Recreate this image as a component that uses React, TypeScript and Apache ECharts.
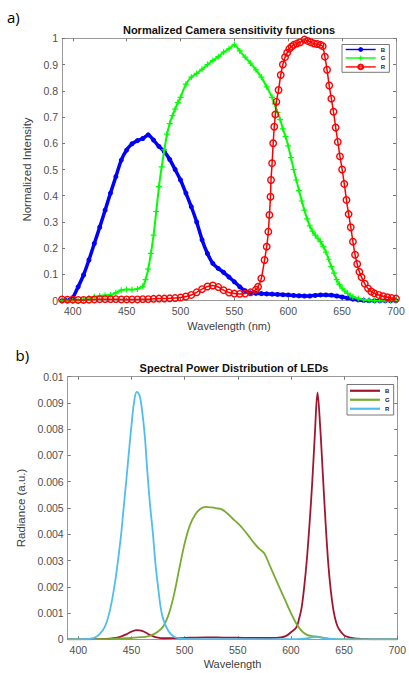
import React, { useEffect, useRef } from "react";
import * as echarts from "echarts";

// ---------------- Data ----------------
const wavelengthTicks = [400, 450, 500, 550, 600, 650, 700];

// a) Normalized camera sensitivity functions [wavelength nm, normalized intensity]
const camB: [number, number][] = [
  [390, 0], [395, 0.002], [400, 0.012], [405, 0.053], [410, 0.098], [415, 0.155], [420, 0.218],
  [425, 0.28], [430, 0.345], [435, 0.41], [440, 0.473], [445, 0.536], [450, 0.574], [455, 0.598],
  [460, 0.61], [465, 0.618], [470, 0.632], [475, 0.612], [480, 0.588], [485, 0.568], [490, 0.538],
  [495, 0.5], [500, 0.46], [505, 0.41], [510, 0.358], [515, 0.3], [520, 0.232], [525, 0.18],
  [530, 0.142], [535, 0.123], [540, 0.108], [545, 0.09], [550, 0.072], [555, 0.053], [560, 0.038],
  [565, 0.03], [570, 0.028], [575, 0.027], [580, 0.026], [585, 0.025], [590, 0.024], [595, 0.023],
  [600, 0.022], [605, 0.02], [610, 0.019], [615, 0.018], [620, 0.018], [625, 0.02], [630, 0.022],
  [635, 0.022], [640, 0.021], [645, 0.018], [650, 0.014], [655, 0.01], [660, 0.006], [665, 0.003],
  [670, 0.001], [675, 0], [680, 0], [685, 0], [690, 0], [695, 0], [700, 0],
];

const camG: [number, number][] = [
  [390, 0], [395, 0], [400, 0], [405, 0.002], [410, 0.005], [415, 0.01], [420, 0.015], [425, 0.018],
  [430, 0.02], [435, 0.022], [440, 0.03], [445, 0.04], [450, 0.043], [455, 0.042], [460, 0.045],
  [465, 0.055], [467.5, 0.08], [470, 0.12], [472.5, 0.18], [475, 0.25], [477.5, 0.34], [480, 0.435],
  [482.5, 0.51], [485, 0.575], [487.5, 0.635], [490, 0.675], [492.5, 0.705], [495, 0.73],
  [497.5, 0.755], [500, 0.775], [505, 0.825], [510, 0.852], [515, 0.866], [520, 0.882], [525, 0.9],
  [530, 0.915], [535, 0.93], [540, 0.947], [545, 0.96], [550, 0.975], [555, 0.952], [560, 0.928],
  [565, 0.905], [570, 0.88], [575, 0.852], [580, 0.815], [585, 0.775], [587.5, 0.75], [590, 0.718],
  [592.5, 0.69], [595, 0.655], [597.5, 0.625], [600, 0.59], [602.5, 0.545], [605, 0.5],
  [607.5, 0.46], [610, 0.42], [612.5, 0.38], [615, 0.345], [617.5, 0.312], [620, 0.285],
  [622.5, 0.265], [625, 0.25], [627.5, 0.238], [630, 0.225], [632.5, 0.207], [635, 0.185],
  [637.5, 0.158], [640, 0.13], [642.5, 0.105], [645, 0.08], [647.5, 0.062], [650, 0.048],
  [652.5, 0.037], [655, 0.028], [657.5, 0.02], [660, 0.015], [665, 0.008], [670, 0.004],
  [675, 0.002], [680, 0], [685, 0], [690, 0], [695, 0], [700, 0],
];

const camR: [number, number][] = [
  [390, 0.005], [395, 0.004], [400, 0.004], [405, 0.003], [410, 0.003], [415, 0.004], [420, 0.005],
  [425, 0.006], [430, 0.006], [435, 0.006], [440, 0.006], [445, 0.005], [450, 0.005], [455, 0.005],
  [460, 0.005], [465, 0.006], [470, 0.006], [475, 0.007], [480, 0.008], [485, 0.008], [490, 0.009],
  [495, 0.01], [500, 0.012], [505, 0.016], [510, 0.022], [515, 0.032], [520, 0.044], [525, 0.054],
  [530, 0.058], [535, 0.052], [540, 0.04], [545, 0.031], [550, 0.027], [555, 0.026], [560, 0.027],
  [565, 0.032], [570, 0.042], [572, 0.053], [575, 0.085], [578, 0.155], [580, 0.206],
  [581.5, 0.263], [582.5, 0.327], [583.5, 0.396], [584, 0.46], [585, 0.524], [586, 0.6],
  [587, 0.663], [588, 0.71], [589, 0.758], [591, 0.803], [593, 0.86], [595, 0.9], [597, 0.928],
  [599, 0.945], [601, 0.96], [603, 0.968], [605, 0.975], [608, 0.98], [611, 0.985], [615, 0.995],
  [618, 0.99], [621, 0.985], [624, 0.98], [627, 0.978], [630, 0.975], [632, 0.97], [634, 0.93],
  [636, 0.88], [638, 0.82], [640, 0.77], [642, 0.72], [644, 0.66], [646, 0.605], [648, 0.55],
  [650, 0.5], [652, 0.445], [654, 0.384], [656, 0.33], [658, 0.28], [660, 0.225], [662, 0.175],
  [664, 0.14], [666, 0.11], [668, 0.09], [671, 0.065], [674, 0.047], [677, 0.035], [680, 0.028],
  [684, 0.022], [688, 0.017], [692, 0.013], [696, 0.01], [700, 0.008],
];

// b) Spectral power distribution of LEDs [wavelength nm, radiance in units of 0.001]
const RADIANCE_UNIT = 0.001;

const ledB: [number, number][] = [
  [390, 0], [410, 0], [415, 0.005], [420, 0.01], [425, 0.015], [430, 0.025], [435, 0.05],
  [440, 0.1], [445, 0.19], [450, 0.29], [455, 0.35], [460, 0.32], [465, 0.22], [470, 0.12],
  [475, 0.06], [480, 0.04], [490, 0.045], [500, 0.055], [510, 0.065], [520, 0.07], [530, 0.07],
  [540, 0.065], [550, 0.06], [560, 0.055], [570, 0.05], [580, 0.05], [585, 0.055], [590, 0.07],
  [595, 0.12], [600, 0.27], [605, 0.45], [607.5, 0.75], [610, 1.2], [612.5, 2.0], [615, 3.05],
  [617.5, 4.4], [620, 5.95], [622.5, 7.8], [625, 9.4], [627.5, 8.1], [630, 6.3], [632.5, 4.5],
  [635, 2.95], [637.5, 1.85], [640, 1.1], [642.5, 0.65], [645, 0.4], [650, 0.15], [655, 0.07],
  [660, 0.035], [665, 0.02], [670, 0.01], [680, 0], [700, 0],
];

const ledG: [number, number][] = [
  [390, 0], [415, 0], [420, 0.005], [430, 0.015], [440, 0.03], [450, 0.05], [460, 0.08],
  [465, 0.11], [470, 0.18], [475, 0.3], [480, 0.5], [485, 0.95], [490, 1.7], [495, 2.7],
  [500, 3.65], [505, 4.35], [510, 4.75], [515, 4.97], [520, 5.04], [525, 5.02], [530, 4.99],
  [535, 4.95], [540, 4.8], [545, 4.6], [550, 4.42], [555, 4.2], [560, 3.95], [565, 3.68],
  [570, 3.45], [575, 3.27], [580, 2.82], [585, 2.36], [590, 1.9], [595, 1.45], [600, 1.0],
  [605, 0.6], [610, 0.32], [615, 0.17], [620, 0.12], [625, 0.1], [630, 0.06], [635, 0.03],
  [640, 0.01], [650, 0], [700, 0],
];

const ledR: [number, number][] = [
  [390, 0], [400, 0], [405, 0.005], [410, 0.02], [415, 0.06], [420, 0.2], [425, 0.48],
  [430, 1.15], [435, 2.3], [440, 3.9], [442.5, 4.95], [445, 6.0], [447.5, 7.1], [450, 8.15],
  [452.5, 9.05], [455, 9.42], [457.5, 9.3], [460, 8.7], [462.5, 7.75], [465, 6.35], [467.5, 5.1],
  [470, 4.1], [472.5, 2.9], [475, 2.0], [477.5, 1.2], [480, 0.75], [485, 0.3], [490, 0.1],
  [495, 0.04], [500, 0.02], [510, 0.01], [600, 0.01], [610, 0.02], [615, 0.04], [620, 0.07],
  [625, 0.08], [630, 0.05], [635, 0.02], [640, 0.01], [650, 0], [700, 0],
];

// ---------------- Styling ----------------
const FONT = "'Liberation Sans', Arial, Helvetica, sans-serif";
const AXIS_COLOR = "#9a9a9a";
const LABEL_COLOR = "#505050";
const NAME_COLOR = "#404040";
const PLUS_SYMBOL = "path://M4,0H6V4H10V6H6V10H4V6H0V4H4Z";

function xAxesFor(gridIndex: number, name: string, nameGap: number) {
  const base = {
    type: "value" as const,
    gridIndex,
    min: 390,
    max: 700,
    splitLine: { show: false },
    axisLine: { show: true, onZero: false, lineStyle: { color: AXIS_COLOR, width: 1 } },
    axisTick: { show: true, inside: true, length: 3, customValues: wavelengthTicks, lineStyle: { color: "#777" } },
  };
  return [
    {
      ...base,
      position: "bottom",
      name,
      nameLocation: "middle",
      nameGap,
      nameTextStyle: { fontSize: 11, color: NAME_COLOR, fontFamily: FONT },
      axisLabel: { customValues: wavelengthTicks, margin: 5, fontSize: 10.5, color: LABEL_COLOR, fontFamily: FONT },
    },
    { ...base, position: "top", axisLabel: { show: false } },
  ];
}

function yAxesFor(
  gridIndex: number,
  max: number,
  interval: number,
  name: string,
  nameGap: number,
  formatter: (v: number) => string
) {
  const base = {
    type: "value" as const,
    gridIndex,
    min: 0,
    max,
    interval,
    splitLine: { show: false },
    axisLine: { show: true, onZero: false, lineStyle: { color: AXIS_COLOR, width: 1 } },
    axisTick: { show: true, inside: true, length: 3, lineStyle: { color: "#777" } },
  };
  return [
    {
      ...base,
      position: "left",
      name,
      nameLocation: "middle",
      nameGap,
      nameTextStyle: { fontSize: 11.5, color: NAME_COLOR, fontFamily: FONT },
      axisLabel: { margin: 4, fontSize: 10.5, color: LABEL_COLOR, fontFamily: FONT, formatter },
    },
    { ...base, position: "right", axisLabel: { show: false } },
  ];
}

const scaleLed = (arr: [number, number][]) => arr.map(([w, v]) => [w, v * RADIANCE_UNIT]);

export default function App() {
  const ref = useRef<HTMLDivElement>(null);

  useEffect(() => {
    if (!ref.current) return;
    const chart = echarts.init(ref.current, null, { renderer: "svg" });

    const option: any = {
      animation: false,
      backgroundColor: "#ffffff",
      textStyle: { fontFamily: FONT },
      grid: [
        { left: 62, top: 38.3, width: 334, height: 262.4, containLabel: false },
        { left: 67.7, top: 376.7, width: 332.3, height: 262.6, containLabel: false },
      ],
      xAxis: [...xAxesFor(0, "Wavelength (nm)", 19.5), ...xAxesFor(1, "Wavelength", 19.5)],
      yAxis: [
        ...yAxesFor(0, 1, 0.1, "Normalized Intensity", 21.5, (v: number) => String(Number(v.toFixed(1)))),
        ...yAxesFor(1, 0.01, 0.001, "Radiance (a.u.)", 33.5, (v: number) => String(Number(v.toFixed(3)))),
      ],
      legend: [
        {
          data: ["B", "G", "R"],
          orient: "vertical",
          left: 342,
          top: 44.5,
          itemWidth: 30,
          itemHeight: 6,
          itemGap: 2.5,
          padding: [2, 4, 2, 3],
          borderColor: "#555",
          borderWidth: 0.8,
          backgroundColor: "#fff",
          selectedMode: false,
          lineStyle: { width: 1.4 },
          textStyle: { fontSize: 6, fontWeight: "bold", color: "#222", fontFamily: FONT },
        },
        {
          data: ["LED B", "LED G", "LED R"],
          formatter: (n: string) => n.replace("LED ", ""),
          orient: "vertical",
          left: 347,
          top: 384.5,
          icon: "rect",
          itemWidth: 30,
          itemHeight: 2.2,
          itemGap: 2.5,
          padding: [3, 4, 3, 3],
          borderColor: "#555",
          borderWidth: 0.8,
          backgroundColor: "#fff",
          selectedMode: false,
          textStyle: { fontSize: 6, fontWeight: "bold", color: "#222", fontFamily: FONT, lineHeight: 6.5 },
        },
      ],
      graphic: [
        {
          type: "text",
          x: 7,
          y: 16.5,
          style: { text: "a)", fontSize: 15, fill: "#000", fontFamily: "'Open Sans', 'Liberation Sans', sans-serif", verticalAlign: "middle" },
        },
        {
          type: "text",
          x: 15.5,
          y: 354.5,
          style: { text: "b)", fontSize: 15, fill: "#000", fontFamily: "'Open Sans', 'Liberation Sans', sans-serif", verticalAlign: "middle" },
        },
        {
          type: "text",
          x: 229,
          y: 30,
          style: {
            text: "Normalized Camera sensitivity functions",
            fontSize: 11,
            fontWeight: "bold",
            fill: "#111",
            fontFamily: FONT,
            align: "center",
            verticalAlign: "middle",
          },
        },
        {
          type: "text",
          x: 234,
          y: 368.3,
          style: {
            text: "Spectral Power Distribution of LEDs",
            fontSize: 11,
            fontWeight: "bold",
            fill: "#111",
            fontFamily: FONT,
            align: "center",
            verticalAlign: "middle",
          },
        },
      ],
      series: [
        {
          name: "B",
          type: "line",
          xAxisIndex: 0,
          yAxisIndex: 0,
          data: camB,
          smooth: 0.2,
          symbol: "circle",
          symbolSize: 5,
          lineStyle: { color: "#0000FF", width: 3.5 },
          itemStyle: { color: "#0000FF" },
          z: 2,
        },
        {
          name: "G",
          type: "line",
          xAxisIndex: 0,
          yAxisIndex: 0,
          data: camG,
          smooth: 0.2,
          symbol: PLUS_SYMBOL,
          symbolSize: 6,
          lineStyle: { color: "#00FF00", width: 2 },
          itemStyle: { color: "#00FF00" },
          z: 3,
        },
        {
          name: "R",
          type: "line",
          xAxisIndex: 0,
          yAxisIndex: 0,
          data: camR,
          smooth: 0.2,
          symbol: "circle",
          symbolSize: 6.5,
          lineStyle: { color: "#FF0000", width: 1.5 },
          itemStyle: { color: "rgba(255,255,255,0)", borderColor: "#FF0000", borderWidth: 1.4 },
          z: 4,
        },
        {
          name: "LED B",
          type: "line",
          xAxisIndex: 2,
          yAxisIndex: 2,
          data: scaleLed(ledB),
          smooth: 0.35,
          symbol: "none",
          lineStyle: { color: "#A2142F", width: 1.8 },
          itemStyle: { color: "#A2142F" },
          z: 2,
        },
        {
          name: "LED G",
          type: "line",
          xAxisIndex: 2,
          yAxisIndex: 2,
          data: scaleLed(ledG),
          smooth: 0.35,
          symbol: "none",
          lineStyle: { color: "#77AC30", width: 1.8 },
          itemStyle: { color: "#77AC30" },
          z: 3,
        },
        {
          name: "LED R",
          type: "line",
          xAxisIndex: 2,
          yAxisIndex: 2,
          data: scaleLed(ledR),
          smooth: 0.35,
          symbol: "none",
          lineStyle: { color: "#4DBEEE", width: 1.8 },
          itemStyle: { color: "#4DBEEE" },
          z: 4,
        },
      ],
    };

    chart.setOption(option);
    return () => chart.dispose();
  }, []);

  return (
    <div
      ref={ref}
      style={{ position: "absolute", left: 0, top: 0, width: 409, height: 673, background: "#fff" }}
    />
  );
}
